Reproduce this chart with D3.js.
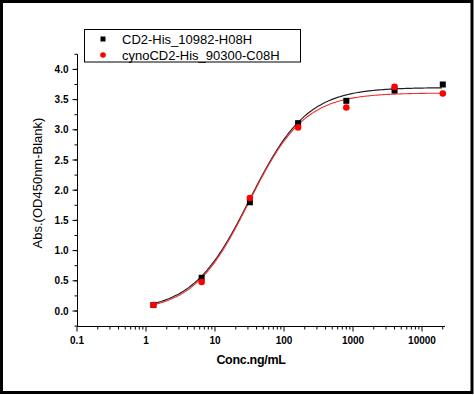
<!DOCTYPE html>
<html><head><meta charset="utf-8">
<script src="https://cdn.jsdelivr.net/npm/d3@7"></script>
<style>html,body{margin:0;padding:0;background:#fff;}svg{display:block;}</style>
</head><body>
<script>
const concentrations = [1.28, 6.4, 32, 160, 800, 4000, 20000];
const seriesNames = ["CD2-His_10982-H08H", "cynoCD2-His_90300-C08H"];
const cd2Values = [0.10, 0.55, 1.80, 3.11, 3.48, 3.65, 3.75];
const cynoValues = [0.10, 0.48, 1.87, 3.04, 3.37, 3.71, 3.60];
// 4PL fit parameters [bottom, top, EC50, hill]
const cd2Fit = [0.0, 3.70, 32, 1.05];
const cynoFit = [-0.01, 3.61, 31, 1.08];
const xTickValues = [0.1, 1, 10, 100, 1000, 10000];
const xTickLabels = ["0.1", "1", "10", "100", "1000", "10000"];
const yTickValues = [0.0, 0.5, 1.0, 1.5, 2.0, 2.5, 3.0, 3.5, 4.0];
const yTickLabels = ["0.0", "0.5", "1.0", "1.5", "2.0", "2.5", "3.0", "3.5", "4.0"];

const W = 474, H = 395;
const svg = d3.select("body").append("svg").attr("width", W).attr("height", H);
svg.append("rect").attr("x", 0).attr("y", 0).attr("width", W).attr("height", H).attr("fill", "#fff");
svg.append("rect").attr("x", 1.5).attr("y", 1.5).attr("width", 470.5).attr("height", 391)
  .attr("fill", "none").attr("stroke", "#000").attr("stroke-width", 3);

const x = d3.scaleLog().domain([0.1, Math.pow(10, 4.333)]).range([77, 445]);
const y = d3.scaleLinear().domain([-0.25, 4.25]).range([326.1, 54.3]);

const fontFam = "Arial, 'Liberation Sans', sans-serif";

// x axis
const minorX = [];
for (let e = -1; e <= 4; e++) for (let k = 2; k <= 9; k++) { const v = k * Math.pow(10, e); if (v <= x.domain()[1]) minorX.push(v); }
const gx = svg.append("g").attr("transform", "translate(0,326.5)");
gx.append("line").attr("x1", 77).attr("x2", 445).attr("stroke", "#000").attr("stroke-width", 1);
gx.selectAll(".mx").data(minorX).join("line").attr("x1", d => x(d)).attr("x2", d => x(d)).attr("y1", 0).attr("y2", 3).attr("stroke", "#000");
gx.selectAll(".Mx").data(xTickValues).join("line").attr("x1", d => x(d)).attr("x2", d => x(d)).attr("y1", 0).attr("y2", 5).attr("stroke", "#000");
gx.selectAll("text").data(xTickValues).join("text").attr("x", d => x(d)).attr("y", 17)
  .attr("text-anchor", "middle").attr("font-family", fontFam).attr("font-weight", "bold").attr("font-size", 10)
  .text((d, i) => xTickLabels[i]);

// y axis
const minorY = d3.range(-0.25, 4.26, 0.25);
const gy = svg.append("g").attr("transform", "translate(77.5,0)");
gy.append("line").attr("y1", y(-0.25)).attr("y2", y(4.25)).attr("stroke", "#000");
gy.selectAll(".my").data(minorY).join("line").attr("x1", -3).attr("x2", 0).attr("y1", d => y(d)).attr("y2", d => y(d)).attr("stroke", "#000");
gy.selectAll(".My").data(yTickValues).join("line").attr("x1", -5).attr("x2", 0).attr("y1", d => y(d)).attr("y2", d => y(d)).attr("stroke", "#000");
gy.selectAll("text").data(yTickValues).join("text").attr("x", -9).attr("y", d => y(d) + 3.5)
  .attr("text-anchor", "end").attr("font-family", fontFam).attr("font-weight", "bold").attr("font-size", 10)
  .text((d, i) => yTickLabels[i]);

// titles
svg.append("text").attr("x", 251).attr("y", 364).attr("text-anchor", "middle")
  .attr("font-family", fontFam).attr("font-weight", "bold").attr("font-size", 12.5).attr("letter-spacing", -0.3).text("Conc.ng/mL");
svg.append("text").attr("transform", "translate(42,183) rotate(-90)").attr("text-anchor", "middle")
  .attr("font-family", fontFam).attr("font-size", 13).text("Abs.(OD450nm-Blank)");

// fitted curves
function fourPL(p, c) { return p[1] + (p[0] - p[1]) / (1 + Math.pow(c / p[2], p[3])); }
const curveX = d3.range(Math.log10(1.28), Math.log10(20000) + 1e-9, 0.02).map(v => Math.pow(10, v));
const line = d3.line().x(d => x(d[0])).y(d => y(d[1])).curve(d3.curveMonotoneX);
svg.append("path").attr("d", line(curveX.map(c => [c, fourPL(cd2Fit, c)]))).attr("fill", "none").attr("stroke", "#222").attr("stroke-width", 1.2);
svg.append("path").attr("d", line(curveX.map(c => [c, fourPL(cynoFit, c)]))).attr("fill", "none").attr("stroke", "#f03030").attr("stroke-width", 1.1);

// points
svg.selectAll(".sq").data(concentrations).join("rect")
  .attr("x", (d) => x(d) - 3).attr("y", (d, i) => y(cd2Values[i]) - 3).attr("width", 6).attr("height", 6).attr("fill", "#000");
svg.selectAll(".ci").data(concentrations).join("circle")
  .attr("cx", d => x(d)).attr("cy", (d, i) => y(cynoValues[i])).attr("r", 3.3).attr("fill", "#ff0000");

// legend
const lg = svg.append("g");
lg.append("rect").attr("x", 84.5).attr("y", 29.5).attr("width", 216).attr("height", 32.5).attr("fill", "#fff").attr("stroke", "#000").attr("stroke-width", 1);
lg.append("rect").attr("x", 100.5).attr("y", 36.5).attr("width", 5).attr("height", 5).attr("fill", "#000");
lg.append("circle").attr("cx", 103).attr("cy", 55).attr("r", 2.8).attr("fill", "#ff0000");
lg.selectAll("text").data(seriesNames).join("text").attr("x", 122).attr("y", (d, i) => 43.5 + i * 16)
  .attr("font-family", fontFam).attr("font-size", 13).text(d => d);
</script>
</body></html>
